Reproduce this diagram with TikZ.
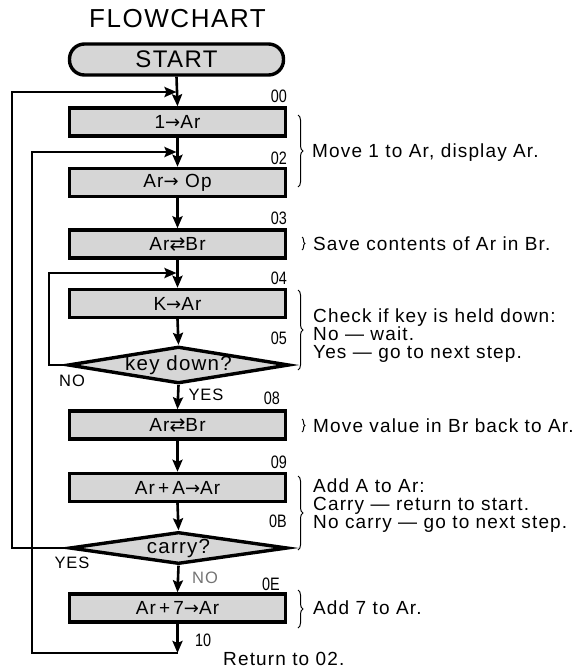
\documentclass[tikz,border=0pt]{standalone}
\usepackage{fontspec}
\setmainfont{Liberation Sans}
\setsansfont{Liberation Sans}
\newfontfamily\descfont[LetterSpace=6]{Liberation Sans}
\newfontfamily\numfont[FakeStretch=0.8]{Liberation Sans}
\newfontfamily\symfont{DejaVu Sans}
\newcommand{\rarr}{{\symfont\fontsize{18}{18}\selectfont →}}
\newcommand{\xchg}{{\symfont ⇄}}
\usetikzlibrary{shapes.geometric,arrows.meta,decorations.pathreplacing}
\begin{document}
\begin{tikzpicture}[x=1pt,y=-1pt,
  stepbox/.style={draw, line width=3.4pt, fill=black!16, minimum width=216pt, minimum height=28pt, inner sep=0pt, font=\descfont\fontsize{19}{20}\selectfont},
  decbox/.style={draw, line width=3.4pt, fill=black!16, shape=diamond, aspect=6, minimum width=218pt, minimum height=32pt, inner sep=0pt, font=\descfont\fontsize{20.5}{22}\selectfont},
  arr/.style={line width=2.6pt, -{Stealth[length=12pt,width=10pt,inset=2pt]}},
  numlabel/.style={font=\numfont\fontsize{18}{18}\selectfont, inner sep=0pt},
  yn/.style={font=\descfont\fontsize{16.5}{18}\selectfont, inner sep=0pt},
  desc/.style={font=\descfont\fontsize{19}{18}\selectfont, inner sep=0pt, anchor=west, align=left},
  bracel/.style={line width=1pt, decorate, decoration={brace, amplitude=5pt}}
]
\useasboundingbox (0,0) rectangle (583,670);

% title and start
\node[font=\descfont\fontsize{26}{28}\selectfont, inner sep=0pt, anchor=base] (title) at (177.5,27) {FLOWCHART};
\node[draw, line width=3.4pt, fill=black!16, rounded corners=15pt, minimum width=214pt, minimum height=31pt, inner sep=0pt, font=\descfont\fontsize{24}{26}\selectfont] (start) at (176.5,59.5) {START};

% process boxes
\node[stepbox] (b1) at (177.5,122) {1\rarr Ar};
\node[stepbox] (b2) at (177.5,182.5) {Ar\rarr\ Op};
\node[stepbox] (b3) at (177.5,244) {Ar\xchg Br};
\node[stepbox] (b4) at (177.5,303.5) {K\rarr Ar};
\node[decbox] (d1) at (178.5,365) {key down?};
\node[stepbox] (b5) at (177.5,425) {Ar\xchg Br};
\node[stepbox] (b6) at (177.5,487.5) {Ar\,+\,A\rarr Ar};
\node[decbox] (d2) at (178.5,548) {carry?};
\node[stepbox] (b7) at (177.5,608) {Ar\,+\,7\rarr Ar};

% helper coordinates
\coordinate (j00) at (177.5,92);
\coordinate (j02) at (177.5,152);
\coordinate (j04) at (177.5,273);
\coordinate (c10) at (177.5,653);

% main flow
\draw[arr] (start.south) -- (b1.north);
\draw[arr] (b1.south) -- (b2.north);
\draw[arr] (b2.south) -- (b3.north);
\draw[arr] (b3.south) -- (b4.north);
\draw[arr] (b4.south) -- (d1.north);
\draw[arr] (d1.south) -- (b5.north);
\draw[arr] (b5.south) -- (b6.north);
\draw[arr] (b6.south) -- (d2.north);
\draw[arr] (d2.south) -- (b7.north);
\draw[arr] (b7.south) -- (c10);

% loops
\draw[arr] (d2.west) -- (12,548) |- ([xshift=-1pt]j00);
\draw[arr] (c10) -- (32,653) |- ([xshift=-1pt]j02);
\draw[arr] (d1.west) -- (49,365) |- ([xshift=-1pt]j04);

% address labels
\node[numlabel, anchor=east] (l00) at (287,96) {00};
\node[numlabel, anchor=east] (l02) at (287,158) {02};
\node[numlabel, anchor=east] (l03) at (287,218) {03};
\node[numlabel, anchor=east] (l04) at (287,278) {04};
\node[numlabel, anchor=east] (l05) at (287,338) {05};
\node[numlabel, anchor=east] (l08) at (280,398) {08};
\node[numlabel, anchor=east] (l09) at (287,462) {09};
\node[numlabel, anchor=east] (l0B) at (287,521) {0B};
\node[numlabel, anchor=east] (l0E) at (280,584) {0E};
\node[numlabel, anchor=west] (l10) at (195,640) {10};

% yes/no
\node[yn] (no1) at (72,381) {NO};
\node[yn] (yes1) at (206,395) {YES};
\node[yn] (yes2) at (72,563) {YES};
\node[yn, text=black!55] (no2) at (205,578) {NO};

% braces
\draw[bracel] (298,115) -- (298,187);
\draw[bracel, decoration={brace, amplitude=3pt}] (302,237) -- (302,250);
\draw[bracel] (298,290) -- (298,370);
\draw[bracel, decoration={brace, amplitude=3pt}] (302,419) -- (302,432);
\draw[bracel] (298,476) -- (298,550);
\draw[bracel] (298,590) -- (298,628);

% descriptions
\node[desc] (t1) at (312,153) {Move 1 to Ar, display Ar.};
\node[desc] (t2) at (313,244) {Save contents of Ar in Br.};
\node[desc] (t3) at (313,336) {Check if key is held down:\\No — wait.\\Yes — go to next step.};
\node[desc] (t4) at (313,426) {Move value in Br back to Ar.};
\node[desc] (t5) at (313,506) {Add A to Ar:\\Carry — return to start.\\No carry — go to next step.};
\node[desc] (t6) at (313,608) {Add 7 to Ar.};
\node[desc] (t7) at (223,659) {Return to 02.};
\end{tikzpicture}
\end{document}
